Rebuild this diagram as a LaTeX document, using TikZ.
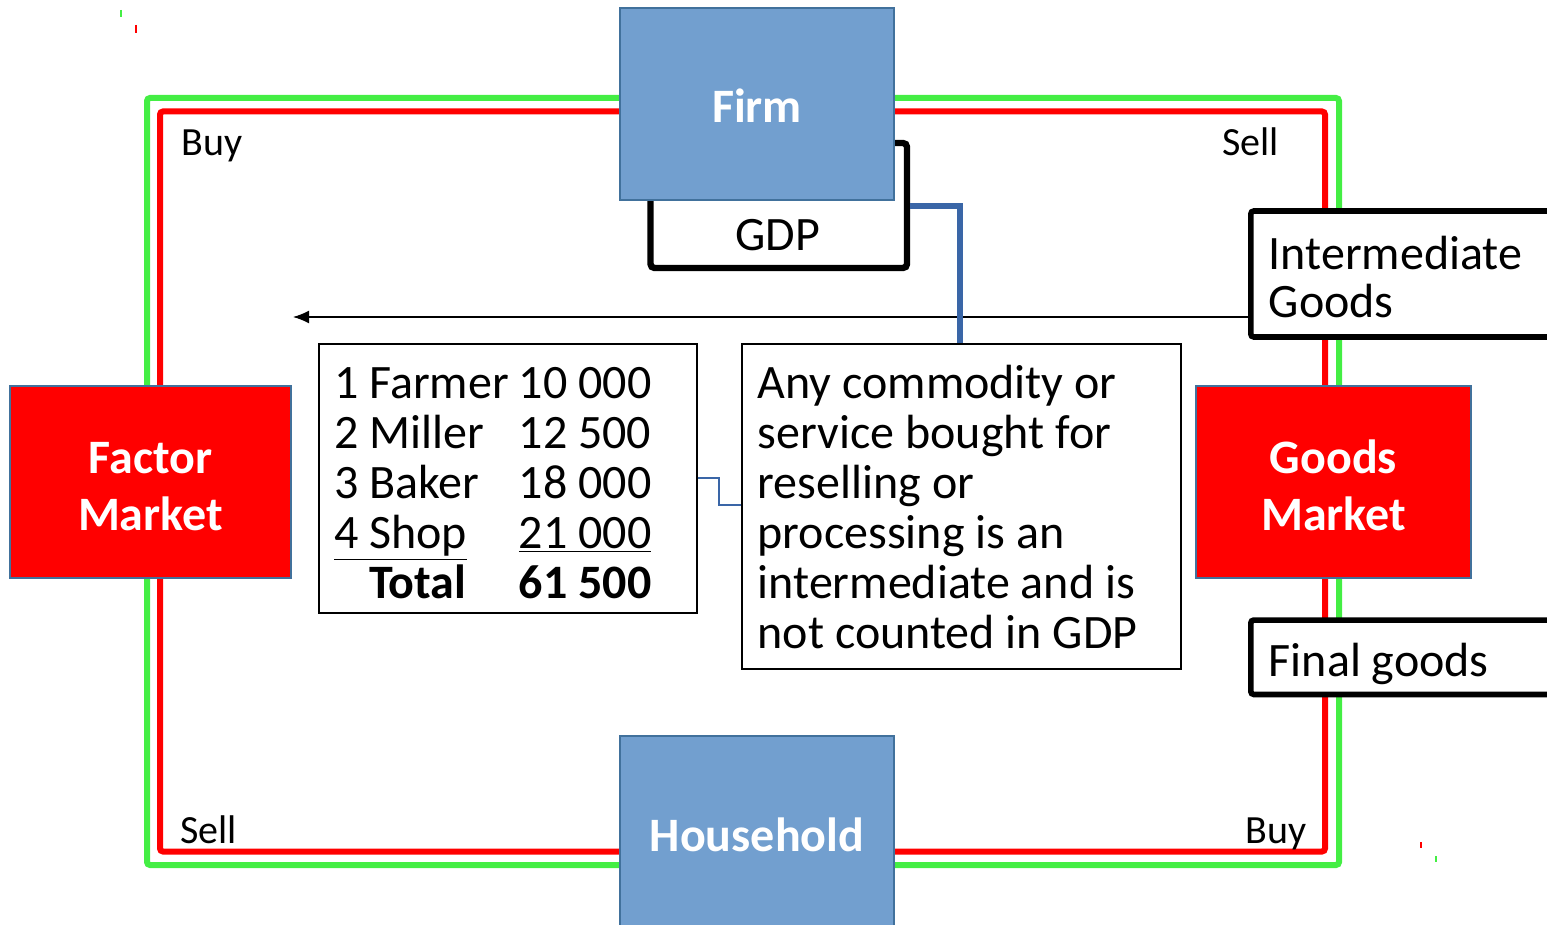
\documentclass[tikz,border=0pt]{standalone}
\usepackage{fontspec}
\setmainfont{Carlito}
\usepackage{tikz}
\usetikzlibrary{arrows.meta,calc,positioning}
\usepackage{xcolor}
\definecolor{LoopGreen}{HTML}{44EE44}
\definecolor{LoopRed}{HTML}{FF0000}
\definecolor{AgentBlue}{HTML}{729FCF}
\definecolor{EdgeBlue}{HTML}{41719C}
\definecolor{LinkBlue}{HTML}{3A66A7}
\newcommand{\tightsp}{\spaceskip=0.226em\relax}

\begin{document}
\begin{tikzpicture}[
  x=0.5pt,y=-0.5pt,>=Latex,
  cycleline/.style={line width=3pt,rounded corners=1.5pt},
  agent/.style={draw=EdgeBlue,fill=AgentBlue,line width=0.75pt,text=white,
    minimum width=137pt,minimum height=96pt,align=center,inner sep=0pt,
    text height=19pt,text depth=0pt,
    font=\bfseries\fontsize{24}{28.5}\selectfont},
  market/.style={agent,fill=LoopRed,text height=48pt,text depth=0pt},
  gdpframe/.style={draw=black,line width=3.2pt,rounded corners=2pt,
    minimum width=128.25pt,minimum height=62.5pt,inner sep=0pt},
  tag/.style={draw=black,fill=white,line width=2.8pt,rounded corners=1.5pt,
    anchor=west,inner xsep=9pt,inner ysep=0pt,align=left,text width=150pt,
    font=\fontsize{24}{24}\selectfont},
  textbox/.style={draw=black,fill=white,line width=0.75pt,inner sep=0pt,
    anchor=north west,font=\fontsize{24}{25}\selectfont},
  word/.style={font=\fontsize{20}{24}\selectfont,anchor=base west,inner sep=0pt},
  link/.style={draw=LinkBlue,line width=2.8pt},
  thinlink/.style={draw=LinkBlue,line width=0.7pt},
  flow/.style={-{Latex[length=8pt,width=6.5pt]},line width=0.7pt}
]
\useasboundingbox (0,0) rectangle (1547,925);
\clip (0,0) rectangle (1547,925);

% circular flow: goods (green) and money (red)
\draw[cycleline,draw=LoopGreen] (147,98) rectangle (1339,865);
\draw[cycleline,draw=LoopRed] (160,111.5) rectangle (1325,851.5);

\node[gdpframe] (gdp) at (778.75,205.5) {};
\node[font=\fontsize{24}{25}\selectfont,inner sep=0pt] (gdptext) at (778,235) {GDP};
\node[agent] (firm) at (757,104) {Firm};
\node[agent] (house) at (757,832) {Household};

\node[market,minimum width=140.5pt] (factor) at (150.5,482) {Factor\\Market};
\node[market,minimum width=137.5pt] (goods) at (1333.5,482) {Goods\\Market};

\node[tag,text height=29.5pt,text depth=33.5pt] (inter) at (1248,274)
  {Intermediate\\Goods};
\node[tag,text height=28.3pt,text depth=8.9pt] (final) at (1248,657.25)
  {\tightsp Final goods};

\node[word] (buyfactor) at (181,156) {Buy};
\node[word] (sellgoods) at (1222,156) {Sell};
\node[word] (sellfactor) at (180,843) {Sell};
\node[word] (buygoods) at (1245,843) {Buy};

\coordinate (interend) at (293,317);
\draw[flow] (inter.west |- interend) -- (interend);

\node[textbox,text height=27.5pt,text depth=107pt,minimum width=189pt] (chain) at (318,343)
  {\begin{tabular}[t]{@{\hspace{7pt}}l@{\hspace{5pt}}r@{\hspace{22pt}}}
   1 Farmer & 10 000\\
   2 Miller & 12 500\\
   3 Baker & 18 000\\
   \underline{4 Shop} & \underline{21 000}\\
   \hspace*{17.5pt}\textbf{Total} & \textbf{61 500}
   \end{tabular}};

\node[textbox,inner xsep=8pt,text width=203.5pt,align=left,
  text height=27.5pt,text depth=135pt] (note) at (741,343)
  {\tightsp Any commodity or\\service bought for\\reselling or\\processing is an\\intermediate and is\\not counted in GDP};

\coordinate (gdpbend) at (960,206);
\draw[link] (gdp.east |- gdpbend) -| (note.north -| gdpbend);
\coordinate (chainbend) at (719,478);
\draw[thinlink] (chain.east |- chainbend) -| (chainbend |- 0,505) -- (note.west |- 0,505);

% stray marks
\draw[LoopGreen,line width=0.8pt] (121,10) -- (121,17);
\draw[LoopRed,line width=0.8pt] (136,25) -- (136,33);
\draw[LoopRed,line width=0.8pt] (1421,842) -- (1421,848);
\draw[LoopGreen,line width=0.8pt] (1436,856) -- (1436,862);

\end{tikzpicture}
\end{document}
